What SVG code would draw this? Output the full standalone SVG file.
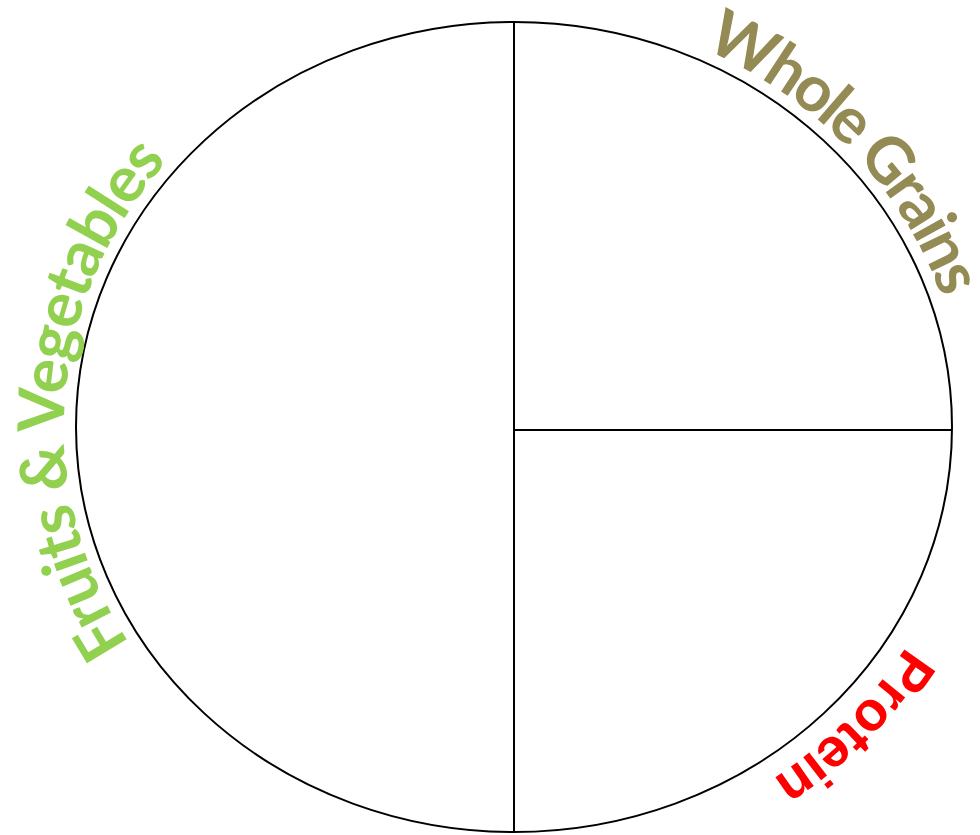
<svg xmlns="http://www.w3.org/2000/svg" xmlns:xlink="http://www.w3.org/1999/xlink" width="980" height="835" viewBox="0 0 980 835">
<style>
.plate{fill:none;stroke:#000;stroke-width:2}
.lbl{font-family:Lato,"Open Sans",sans-serif;font-weight:bold;font-size:64px}
.prot{font-family:"Liberation Sans",Arial,sans-serif;font-weight:bold;font-size:55px}
</style>
<defs>
<path id="arcWG" d="M582.4,15 A450,417 0 0 1 963.9,419"/>
<path id="arcFV" d="M201.4,727 A450,417 0 0 1 249.5,89.6"/>
<path id="arcPR" d="M970,447 A458,425 0 0 1 575,850"/>
</defs>
<g id="plate">
<ellipse class="plate" cx="514" cy="427" rx="438" ry="405"/>
</g>
<g id="connectors">
<line class="plate" x1="514" y1="22" x2="514" y2="832"/>
<line class="plate" x1="514" y1="430" x2="952" y2="430"/>
</g>
<g id="whole-grains">
<text class="lbl" fill="#948A54" text-anchor="middle" letter-spacing="-3" font-size="62"><textPath xlink:href="#arcWG" href="#arcWG" startOffset="50%">Whole Grains</textPath></text>
</g>
<g id="fruits-vegetables">
<text class="lbl" fill="#92D050" text-anchor="middle" letter-spacing="-1.5"><textPath xlink:href="#arcFV" href="#arcFV" startOffset="50%">Fruits &amp; Vegetables</textPath></text>
</g>
<g id="protein">
<text class="prot" fill="#FF0000" text-anchor="middle"><textPath xlink:href="#arcPR" href="#arcPR" startOffset="50%">Protein</textPath></text>
</g>
</svg>
